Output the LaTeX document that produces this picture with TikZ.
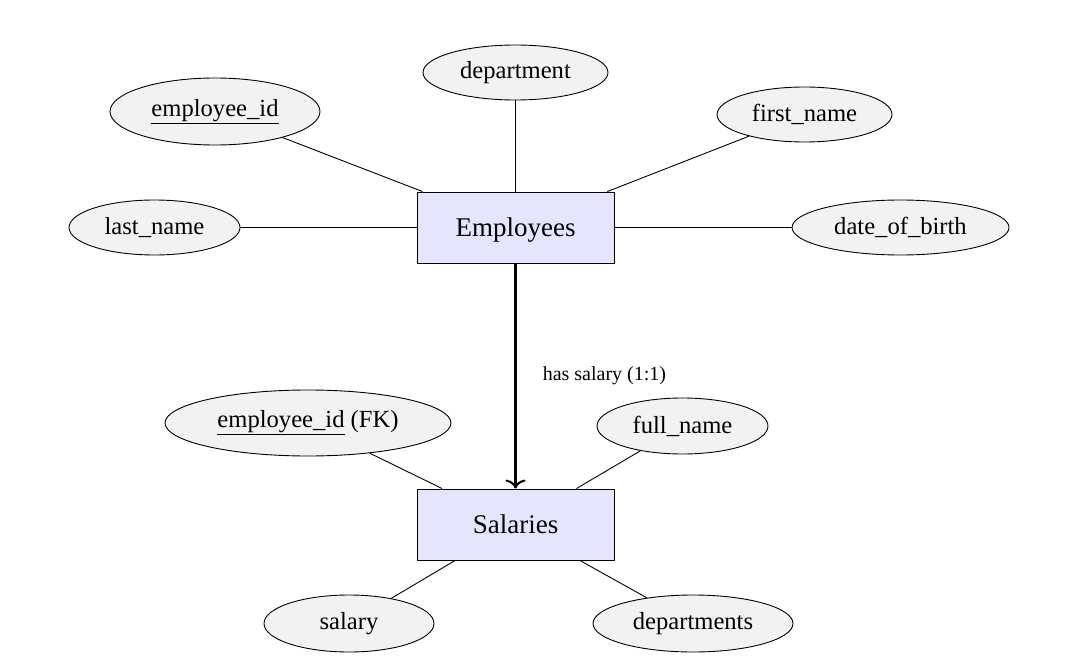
\documentclass[tikz,border=0pt]{standalone}
\usepackage{fontspec}
\setmainfont{Liberation Serif}
\usetikzlibrary{shapes.geometric,arrows.meta}
\tikzset{
  entity/.style={draw, fill=blue!10, rectangle, minimum width=197pt, minimum height=71pt, inner sep=0pt, line width=0.9pt, text height=20pt, text depth=1.3pt, font=\fontsize{27}{32}\selectfont},
  attr/.style={draw, fill=gray!10, ellipse, inner sep=0pt, line width=0.9pt, font=\fontsize{24.6}{30}\selectfont},
  link/.style={line width=0.9pt},
  rel/.style={line width=2.5pt, -{To[length=9pt,width=20pt,line width=2pt]}},
  rellabel/.style={font=\fontsize{20}{24}\selectfont, anchor=west, inner sep=0pt}
}
\begin{document}
\begin{tikzpicture}[x=1pt,y=-1pt]
\useasboundingbox (0,0) rectangle (1092,658);
\node[entity] (emp) at (515.5,227.5) {Employees};
\node[entity] (sal) at (515.5,524.5) {Salaries};
\node[attr, minimum width=210pt, minimum height=67pt] (eid) at (215,111.5) {\underline{employee\_id}};
\node[attr, minimum width=185pt, minimum height=55pt] (dep) at (515.5,72.5) {department};
\node[attr, minimum width=175pt, minimum height=55pt] (fn) at (804.5,114.5) {first\_name};
\node[attr, minimum width=171pt, minimum height=55pt] (ln) at (154.5,227.5) {last\_name};
\node[attr, minimum width=217pt, minimum height=55pt] (dob) at (900.5,227.5) {date\_of\_birth};
\node[attr, minimum width=286pt, minimum height=66pt] (fk) at (308,423) {\underline{employee\_id} (FK)};
\node[attr, minimum width=171pt, minimum height=56pt] (full) at (682.5,426) {full\_name};
\node[attr, minimum width=170pt, minimum height=57pt] (salary) at (349,623.5) {salary};
\node[attr, minimum width=200pt, minimum height=57pt] (deps) at (693,623.5) {departments};
\draw[link] (eid) -- (emp);
\draw[link] (dep) -- (emp);
\draw[link] (fn) -- (emp);
\draw[link] (ln) -- (emp);
\draw[link] (dob) -- (emp);
\draw[link] (fk) -- (sal);
\draw[link] (full) -- (sal);
\draw[link] (salary) -- (sal);
\draw[link] (deps) -- (sal);
\draw[rel] (emp) -- (sal) node[rellabel, pos=0.5, xshift=26pt] (lbl) {has salary (1:1)};
\end{tikzpicture}
\end{document}
